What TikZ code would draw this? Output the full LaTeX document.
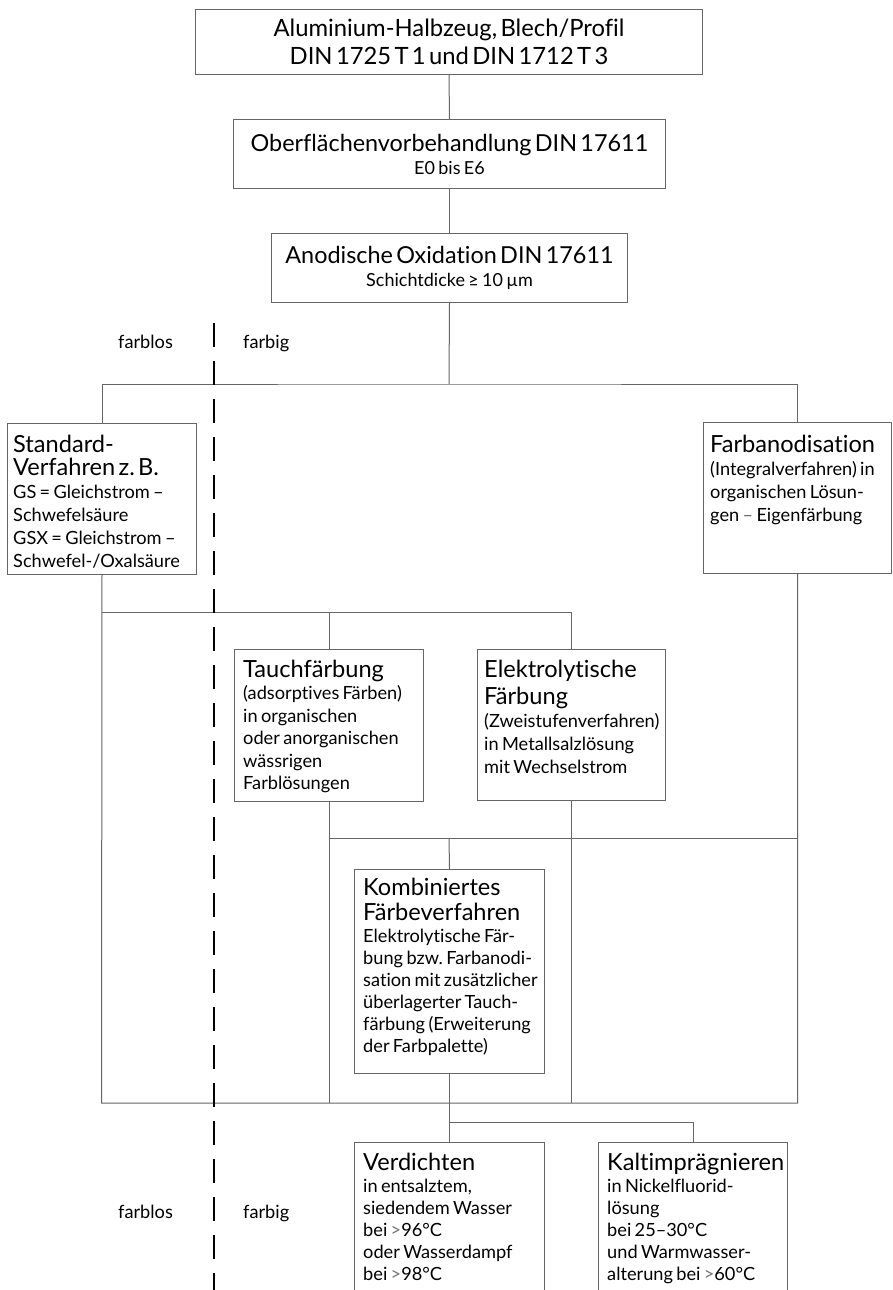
\documentclass[tikz,border=0pt]{standalone}
\usepackage{fontspec}
\setmainfont{Lato}[Ligatures=NoCommon]
\frenchspacing
\newcommand\tf{\fontsize{23.6}{23}\selectfont}
\newcommand\bodyf{\fontsize{18.2}{23}\selectfont}
\newcommand\smallf{\fontsize{18}{23}\selectfont}
\begin{document}
\begin{tikzpicture}[x=1pt,y=-1pt,
  line/.style={draw=black!60, line width=1pt},
  dashline/.style={draw=black, line width=1.3pt, dash pattern=on 24pt off 14pt},
  box/.style={draw=black!60, line width=1pt, inner sep=0pt, anchor=north west},
  cbox/.style={box, align=center},
  txt/.style={inner sep=0pt, anchor=base west, text width=300pt, align=left},
  lab/.style={inner sep=0pt, anchor=base west, font=\bodyf}]
\useasboundingbox (0,0) rectangle (892,1290);
\clip (0,0) rectangle (892,1290);
\fill[white] (0,0) rectangle (892,1290);
% top boxes
\node[cbox, minimum width=507pt, minimum height=65pt, text width=507pt] (top) at (195,9)
  {{\fontsize{23.8}{28}\selectfont Aluminium-Halbzeug, Blech/Profil\\DIN 1725 T 1 und DIN 1712 T 3\par}};
\node[cbox, minimum width=432pt, minimum height=69pt, text width=432pt] (ober) at (233,119)
  {{\fontsize{23.4}{24}\selectfont Oberflächenvorbehandlung DIN 17611\par}{\smallf E0 bis E6\par}};
\node[cbox, minimum width=356pt, minimum height=69pt, text width=356pt] (anod) at (271,233)
  {{\fontsize{23.4}{24}\selectfont Anodische Oxidation DIN 17611\par}{\smallf Schichtdicke ≥ 10 µm\par}};
% second level boxes
\node[box, minimum width=189pt, minimum height=151pt] (std) at (7,423) {};
\node[box, minimum width=188pt, minimum height=151pt] (farb) at (703,422) {};
\node[box, minimum width=189pt, minimum height=152pt] (tauch) at (234,649) {};
\node[box, minimum width=188pt, minimum height=151pt] (elek) at (477,649) {};
\node[box, minimum width=190pt, minimum height=204pt] (komb) at (354,869) {};
\node[box, minimum width=190pt, minimum height=200pt] (verd) at (354,1142) {};
\node[box, minimum width=189pt, minimum height=200pt] (kalt) at (598,1142) {};
% texts
\node[txt] (stdT) at (13,452) {{\tf Standard-\\Verfahren z. B.\par}{\bodyf GS = Gleichstrom –\\Schwefelsäure\\GSX = Gleichstrom –\\Schwefel-/Oxalsäure\par}};
\node[txt] (farbT) at (710,452) {{\tf Farbanodisation\par}{\bodyf (Integralverfahren) in\\organischen Lösun-\\gen {\color{black!60}–} Eigenfärbung\par}};
\node[txt] (tauchT) at (243,677) {{\tf Tauchfärbung\par}{\fontsize{18.2}{22.5}\selectfont (adsorptives Färben)\\in organischen\\oder anorganischen\\wässrigen\\Farblösungen\par}};
\node[txt] (elekT) at (484,677) {{\fontsize{23.6}{27}\selectfont Elektrolytische\\Färbung\par}{\fontsize{18.2}{23}\selectfont (Zweistufenverfahren)\\in Metallsalzlösung\\mit Wechselstrom\par}};
\node[txt] (kombT) at (363,895) {{\fontsize{23.6}{25}\selectfont Kombiniertes\\Färbeverfahren\par}{\fontsize{18.2}{22}\selectfont Elektrolytische Fär-\\bung bzw. Farbanodi-\\sation mit zusätzlicher\\überlagerter Tauch-\\färbung (Erweiterung\\der Farbpalette)\par}};
\node[txt] (verdT) at (363,1170) {{\tf Verdichten\par}{\fontsize{18.2}{22}\selectfont in entsalztem,\\siedendem Wasser\\bei {\color{black!55}>}96°C\\oder Wasserdampf\\bei {\color{black!55}>}98°C\par}};
\node[txt] (kaltT) at (607,1170) {{\tf Kaltimprägnieren\par}{\fontsize{18.2}{22}\selectfont in Nickelfluorid-\\lösung\\bei 25–30°C\\und Warmwasser-\\alterung bei {\color{black!55}>}60°C\par}};
% labels
\node[lab] (fl1) at (118,348) {farblos};
\node[lab] (fb1) at (243,348) {farbig};
\node[lab] (fl2) at (118,1218) {farblos};
\node[lab] (fb2) at (243,1218) {farbig};
% junction coordinates
\coordinate (j1) at (449,384);
\coordinate (jS) at (101.5,612);
\coordinate (jK) at (449,838);
\coordinate (jL) at (101.5,1103);
\coordinate (jV) at (449,1122);
\coordinate (dT) at (214,323);
\coordinate (dB) at (214,1300);
% connectors
\draw[line] (top.south) -- (ober.north);
\draw[line] (ober.south) -- (anod.north);
\draw[line] (anod.south) -- (j1);
\draw[line] (std.north) |- (j1) -| (farb.north);
\draw[line] (std.south) -- (jL) -- (jL -| farb.south) -- (farb.south);
\draw[line] (jS) -| (tauch.north);
\draw[line] (jS) -| (elek.north);
\draw[line] (tauch.south) -- (tauch.south |- jL);
\draw[line] (elek.south) -- (elek.south |- jL);
\draw[line] (jK -| tauch.south) -- (jK -| farb.south);
\draw[line] (jK) -- (komb.north);
\draw[line] (komb.south) -- (verd.north);
\draw[line] (jV) -| (kalt.north);
\draw[dashline] (dT) -- (dB);
\end{tikzpicture}
\end{document}
